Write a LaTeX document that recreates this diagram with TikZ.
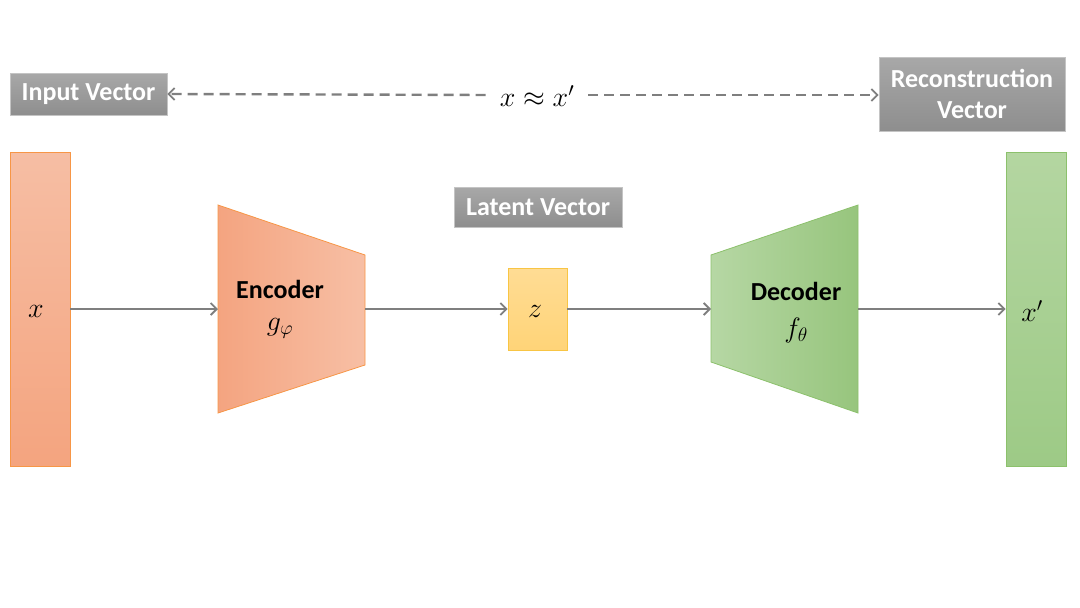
\RequirePackage{fix-cm}
\documentclass[tikz,border=0pt]{standalone}
\usepackage{fontspec}
\setsansfont{Carlito}
\usetikzlibrary{arrows.meta}
\definecolor{orgTop}{HTML}{F6BEA4}
\definecolor{orgBot}{HTML}{F4A47F}
\definecolor{orgLine}{HTML}{F79646}
\definecolor{encL}{HTML}{F4A480}
\definecolor{encR}{HTML}{F7BFA5}
\definecolor{grnTop}{HTML}{B4D6A1}
\definecolor{grnBot}{HTML}{9DCA86}
\definecolor{grnLine}{HTML}{8CC16C}
\definecolor{decL}{HTML}{B6D7A4}
\definecolor{decR}{HTML}{97C57D}
\definecolor{zTop}{HTML}{FFDC94}
\definecolor{zBot}{HTML}{FFD478}
\definecolor{zLine}{HTML}{F8C544}
\definecolor{gTop}{HTML}{A8A8A8}
\definecolor{gBot}{HTML}{8E8E8E}
\definecolor{gLine}{HTML}{C4C4C4}
\definecolor{arr}{HTML}{7F7F7F}
\begin{document}
\begin{tikzpicture}[x=1pt,y=-1pt,
  bar/.style={rectangle, minimum width=60pt, minimum height=314pt, line width=0.8pt, inner sep=0pt},
  inbar/.style={bar, draw=orgLine, top color=orgTop, bottom color=orgBot},
  outbar/.style={bar, draw=grnLine, top color=grnTop, bottom color=grnBot},
  glabel/.style={rectangle, draw=gLine, line width=0.8pt, top color=gTop, bottom color=gBot,
     text=white, font=\sffamily\bfseries\fontsize{26}{31}\selectfont, align=center, inner sep=0pt},
  blocklabel/.style={font=\sffamily\bfseries\fontsize{26}{30}\selectfont},
  mathlabel/.style={font=\fontsize{28}{32}\selectfont},
  conn/.style={draw=arr, line width=2.4pt, -{Straight Barb[length=6pt,width=12pt,line width=1.8pt]}},
  dconn/.style={draw=arr, line width=2.4pt, dash pattern=on 10pt off 6pt, -{Straight Barb[length=6pt,width=12pt,line width=1.8pt]}}
]
\useasboundingbox (0,0) rectangle (1080,608);

% input / output bars
\node[inbar] (xin) at (40,309) {};
\node[mathlabel] at (36,311) {$x$};
\node[outbar] (xout) at (1036,309) {};
\node[mathlabel] at (1032,311) {$x'$};

% encoder
\path[draw=orgLine, line width=0.8pt, left color=encL, right color=encR]
  (218,205) -- (365,255) -- (365,365) -- (218,413) -- cycle;
\coordinate (encIn) at (218,309);
\coordinate (encOut) at (365,309);
\node[blocklabel] (enclab) at (280,289) {Encoder};
\node[mathlabel] (encf) at (280,328) {$g_{\varphi}$};

% decoder
\path[draw=grnLine, line width=0.8pt, left color=decL, right color=decR]
  (711,255) -- (858,205) -- (858,413) -- (711,362) -- cycle;
\coordinate (decIn) at (711,309);
\coordinate (decOut) at (858,309);
\node[blocklabel] (declab) at (796,291) {Decoder};
\node[mathlabel] (decf) at (796,330) {$f_{\theta}$};

% latent
\node[rectangle, draw=zLine, line width=0.8pt, top color=zTop, bottom color=zBot,
  minimum width=59pt, minimum height=82pt, inner sep=0pt] (z) at (537.5,309) {};
\node[mathlabel] at (535,311) {$z$};

% gray labels
\node[glabel, minimum width=157pt, minimum height=42pt] (inlab) at (88.5,94) {Input Vector};
\node[glabel, minimum width=186pt, minimum height=74pt] (reclab) at (972,94) {Reconstruction\\Vector};
\node[glabel, minimum width=168pt, minimum height=40pt] (latlab) at (538,207) {Latent Vector};

% approx
\node[mathlabel, inner xsep=14pt] (approx) at (537,96) {$x \approx x'$};

% connectors
\draw[conn] (xin.east) -- (encIn);
\draw[conn] (encOut) -- (z.west);
\draw[conn] (z.east) -- (decIn);
\draw[conn] (decOut) -- (xout.west);
\draw[dconn] (approx.west |- 0,95) -- (inlab.east);
\draw[dconn] (approx.east |- 0,95) -- (reclab.west |- 0,95);
\end{tikzpicture}
\end{document}
